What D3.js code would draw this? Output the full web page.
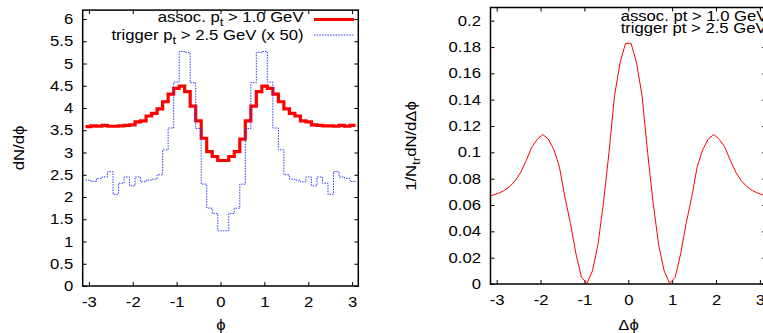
<!DOCTYPE html>
<html>
<head>
<meta charset="utf-8">
<script src="https://cdn.jsdelivr.net/npm/d3@7"></script>
<style>
body { margin: 0; background: #fff; }
svg text { font-family: "Liberation Sans", Arial, Helvetica, sans-serif; font-size: 14.5px; fill: #000; }
</style>
</head>
<body>
<div id="chart"></div>
<script>
// histogram bins are centred on k * binWidth, k = -24 .. 24
let binWidth = 2 * Math.PI / 50
let binIndex = d3.range(-24, 25)

// left panel: dN/dphi, assoc pt > 1.0 GeV
let assocVals = [3.58, 3.60, 3.59, 3.61, 3.59, 3.59, 3.60, 3.61, 3.62, 3.69,
    3.71, 3.82, 3.88, 3.98, 4.14, 4.31, 4.44, 4.49, 4.37, 4.04,
    3.71, 3.32, 3.02, 2.91, 2.82, 2.82, 2.91, 3.02, 3.30, 3.71,
    4.04, 4.37, 4.49, 4.44, 4.31, 4.14, 3.98, 3.88, 3.82, 3.71,
    3.69, 3.62, 3.61, 3.60, 3.60, 3.59, 3.61, 3.59, 3.61]

// left panel: trigger pt > 2.5 GeV, scaled x 50
let triggerVals = [2.38, 2.35, 2.42, 2.45, 2.57, 2.06, 2.31, 2.45, 2.25, 2.45,
    2.34, 2.38, 2.40, 2.50, 3.06, 3.55, 4.58, 5.27, 5.25, 4.57,
    3.54, 2.29, 1.75, 1.63, 1.24, 1.24, 1.63, 1.75, 2.29, 3.54,
    4.57, 5.25, 5.27, 4.58, 3.55, 3.06, 2.50, 2.40, 2.38, 2.34,
    2.45, 2.25, 2.45, 2.31, 2.06, 2.57, 2.45, 2.42, 2.35]

// right panel: 1/Ntr dN/dDphi
let corrX = [-3.142, -3.079, -2.953, -2.827, -2.702, -2.576, -2.450, -2.325, -2.199, -2.073,
    -1.948, -1.822, -1.696, -1.571, -1.445, -1.319, -1.194, -1.068, -0.942, -0.817,
    -0.691, -0.565, -0.440, -0.314, -0.188, -0.063,
    0.063, 0.188, 0.314, 0.440, 0.565, 0.691, 0.817, 0.942, 1.068, 1.194,
    1.319, 1.445, 1.571, 1.696, 1.822, 1.948, 2.073, 2.199, 2.325, 2.450,
    2.576, 2.702, 2.827, 2.953, 3.079, 3.142]
let corrVals = [0.0670, 0.0676, 0.0690, 0.0710, 0.0740, 0.0785, 0.0850, 0.0940, 0.1040, 0.1100,
    0.1135, 0.1100, 0.1020, 0.0890, 0.0660, 0.0460, 0.0230, 0.0050, 0.0005, 0.0100,
    0.0300, 0.0620, 0.1000, 0.1430, 0.1680, 0.1828,
    0.1828, 0.1680, 0.1430, 0.1000, 0.0620, 0.0300, 0.0100, 0.0005, 0.0050, 0.0230,
    0.0460, 0.0660, 0.0890, 0.1020, 0.1100, 0.1135, 0.1100, 0.1040, 0.0940, 0.0850,
    0.0785, 0.0740, 0.0710, 0.0690, 0.0676, 0.0670]

let xTicks = [-3, -2, -1, 0, 1, 2, 3]
let leftYTicks = [0, 0.5, 1, 1.5, 2, 2.5, 3, 3.5, 4, 4.5, 5, 5.5, 6]
let rightYTicks = [0, 0.02, 0.04, 0.06, 0.08, 0.1, 0.12, 0.14, 0.16, 0.18, 0.2]

let W = 763
let H = 333
let stretch = 1.15
let tick = 4

let svg = d3.select('#chart').append('svg')
    .attr('width', W)
    .attr('height', H)

// gnuplot's font is wider than Liberation Sans, so widen text horizontally
function widen (sel) {
    sel.each(function () {
        let t = d3.select(this)
        let x = +t.attr('x') || 0
        let y = +t.attr('y') || 0
        t.attr('transform', 'translate(' + x + ',' + y + ') scale(' + stretch + ',1) translate(' + (-x) + ',' + (-y) + ')')
    })
}

function drawPanel (p) {
    let x = d3.scaleLinear().domain([-Math.PI, Math.PI]).range([p.left, p.right])
    let y = d3.scaleLinear().domain([0, p.yMax]).range([p.bottom, p.top])
    let g = svg.append('g')

    let axB = g.append('g')
        .attr('transform', 'translate(0,' + p.bottom + ')')
        .call(d3.axisBottom(x).tickValues(xTicks).tickSize(-tick).tickPadding(11).tickFormat(String))
    let axL = g.append('g')
        .attr('transform', 'translate(' + p.left + ',0)')
        .call(d3.axisLeft(y).tickValues(p.yTicks).tickSize(-tick).tickPadding(9.5).tickFormat(String))
    let axT = g.append('g')
        .attr('transform', 'translate(0,' + p.top + ')')
        .call(d3.axisTop(x).tickValues(xTicks).tickSize(-tick).tickFormat(''))
    let axR = g.append('g')
        .attr('transform', 'translate(' + p.right + ',0)')
        .call(d3.axisRight(y).tickValues(p.yTicks).tickSize(-tick).tickFormat(''))

    for (let ax of [axB, axL, axT, axR]) {
        ax.select('.domain').remove()
        ax.selectAll('line').attr('stroke', '#000')
        ax.selectAll('text').attr('fill', '#000')
        ax.attr('font-family', null).attr('font-size', null)
    }
    axB.selectAll('text').call(widen)
    axL.selectAll('text').call(widen)

    g.append('rect')
        .attr('x', p.left)
        .attr('y', p.top)
        .attr('width', p.right - p.left)
        .attr('height', p.bottom - p.top)
        .attr('fill', 'none')
        .attr('stroke', '#000')
        .attr('stroke-width', 1.5)

    return { x: x, y: y, g: g }
}

function stepPoints (vals) {
    let pts = []
    binIndex.forEach(function (k, i) {
        pts.push([(k - 0.5) * binWidth, vals[i]])
        pts.push([(k + 0.5) * binWidth, vals[i]])
    })
    return pts
}

// ---- left panel
let L = drawPanel({ left: 82.7, right: 358.3, top: 10.1, bottom: 286, yMax: 6.2, yTicks: leftYTicks })
let lineL = d3.line()
    .x(function (d) { return L.x(d[0]) })
    .y(function (d) { return L.y(d[1]) })

L.g.append('path')
    .attr('d', lineL(stepPoints(assocVals)))
    .attr('fill', 'none')
    .attr('stroke', '#ff0000')
    .attr('stroke-width', 3.2)
L.g.append('path')
    .attr('d', lineL(stepPoints(triggerVals)))
    .attr('fill', 'none')
    .attr('stroke', '#2a3cff')
    .attr('stroke-width', 1)
    .attr('stroke-dasharray', '1.5,1.2')

// legend
let leg1 = L.g.append('text').attr('x', 303.5).attr('y', 22.5).attr('text-anchor', 'end')
leg1.append('tspan').text('assoc. p')
leg1.append('tspan').attr('dy', 4).attr('font-size', '11.5px').text('t')
leg1.append('tspan').attr('dy', -4).text(' > 1.0 GeV')
let leg2 = L.g.append('text').attr('x', 303.5).attr('y', 40).attr('text-anchor', 'end')
leg2.append('tspan').text('trigger p')
leg2.append('tspan').attr('dy', 4).attr('font-size', '11.5px').text('t')
leg2.append('tspan').attr('dy', -4).text(' > 2.5 GeV (x 50)')
leg1.call(widen)
leg2.call(widen)

L.g.append('line')
    .attr('x1', 314).attr('x2', 354).attr('y1', 19.5).attr('y2', 19.5)
    .attr('stroke', '#ff0000').attr('stroke-width', 3.2)
L.g.append('line')
    .attr('x1', 314).attr('x2', 354).attr('y1', 35).attr('y2', 35)
    .attr('stroke', '#2a3cff').attr('stroke-width', 1).attr('stroke-dasharray', '1.5,1.2')

// axis titles
L.g.append('text').attr('x', 221).attr('y', 330).attr('text-anchor', 'middle').text('ϕ').call(widen)
L.g.append('text')
    .attr('text-anchor', 'middle')
    .attr('transform', 'translate(24,148) rotate(-90) scale(' + stretch + ',1)')
    .text('dN/dϕ')

// ---- right panel
let R = drawPanel({ left: 490.5, right: 766.1, top: 7.5, bottom: 284, yMax: 0.21, yTicks: rightYTicks })
let lineR = d3.line()
    .x(function (d, i) { return R.x(corrX[i]) })
    .y(function (d) { return R.y(d) })

R.g.append('path')
    .attr('d', lineR(corrVals))
    .attr('fill', 'none')
    .attr('stroke', '#ff0000')
    .attr('stroke-width', 1)

R.g.append('text').attr('x', 620.7).attr('y', 21).text('assoc. pt > 1.0 GeV').call(widen)
R.g.append('text').attr('x', 620.7).attr('y', 33.5).text('trigger pt > 2.5 GeV').call(widen)

R.g.append('text').attr('x', 628.5).attr('y', 330).attr('text-anchor', 'middle').text('Δϕ').call(widen)
let yl = R.g.append('text')
    .attr('text-anchor', 'middle')
    .attr('transform', 'translate(416,146) rotate(-90) scale(' + stretch + ',1)')
yl.append('tspan').text('1/N')
yl.append('tspan').attr('dy', 4).attr('font-size', '11.5px').text('tr')
yl.append('tspan').attr('dy', -4).text('dN/dΔϕ')
</script>
</body>
</html>
